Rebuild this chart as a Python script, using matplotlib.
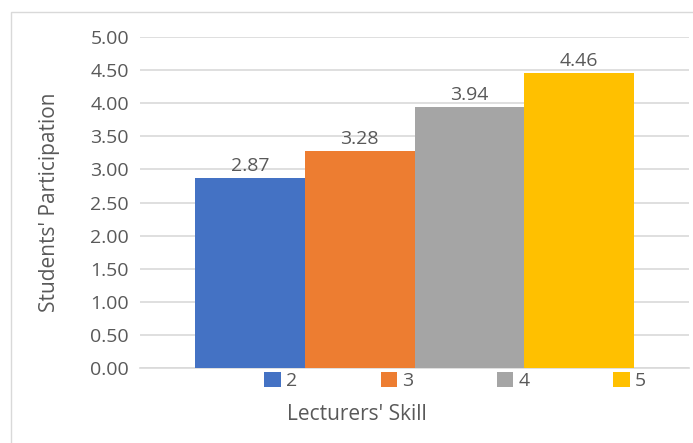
import matplotlib
matplotlib.use("Agg")
import matplotlib.pyplot as plt
from matplotlib.patches import Patch, Rectangle

categories = ["2", "3", "4", "5"]
values = [2.87, 3.28, 3.94, 4.46]
colors = ["#4472C4", "#ED7D31", "#A5A5A5", "#FFC000"]
yticks = [0, 0.5, 1.0, 1.5, 2.0, 2.5, 3.0, 3.5, 4.0, 4.5, 5.0]

txt = "#595959"
plt.rcParams["font.family"] = ["Open Sans", "DejaVu Sans"]

fig = plt.figure(figsize=(6.93, 4.43), dpi=100)
ax = fig.add_axes([140 / 693, 1 - 368 / 443, 549 / 693, 331 / 443])

xs = list(range(len(values)))
bars = ax.bar(xs, values, width=1.0, color=colors, zorder=3)
for b, v in zip(bars, values):
    ax.annotate(f"{v:.2f}", (b.get_x() + b.get_width() / 2, v), xytext=(0, 2),
                textcoords="offset points", ha="center", va="bottom",
                fontsize=14, color=txt)

ax.set_xlim(-1.0, 4.0)
ax.set_ylim(0, 5)
ax.set_yticks(yticks)
ax.set_yticklabels([f"{t:.2f}" for t in yticks], fontsize=14, color=txt)
ax.set_xticks([])
ax.tick_params(axis="y", length=0, pad=8)
ax.grid(axis="y", color="#D9D9D9", linewidth=1.2, zorder=0)
for s in ["top", "right", "left"]:
    ax.spines[s].set_visible(False)
ax.spines["bottom"].set_color("#D9D9D9")
ax.spines["bottom"].set_linewidth(1.2)

ax.set_ylabel("Students' Participation", fontsize=15, color=txt, labelpad=22)
fig.text(357 / 693, 1 - 414 / 443, "Lecturers' Skill", ha="center", va="center",
         fontsize=15, color=txt)

handles = [Patch(facecolor=c, label=l) for c, l in zip(colors, categories)]
fig.legend(handles=handles, loc="center", bbox_to_anchor=(455 / 693, 1 - 381 / 443),
           ncol=4, frameon=False, fontsize=14, labelcolor=txt,
           handlelength=0.85, handleheight=0.85, handletextpad=0.25, columnspacing=4.3)

# outer chart border (right and bottom edges are cut off in the original)
fig.patches.append(Rectangle((11 / 693, -0.1), 1.2, 1.1 - 12 / 443, transform=fig.transFigure,
                             fill=False, edgecolor="#D9D9D9", linewidth=1))

fig.savefig("out.png", dpi=100)
